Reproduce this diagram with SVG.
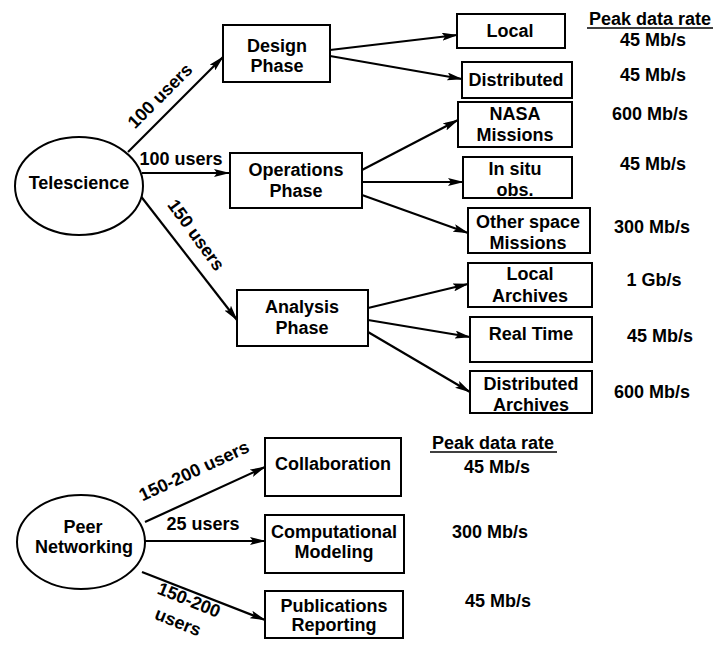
<svg xmlns="http://www.w3.org/2000/svg" width="716" height="649" viewBox="0 0 716 649">
  <defs>
    <marker id="arrow" viewBox="0 0 16 8" refX="15" refY="4" markerWidth="16" markerHeight="8" markerUnits="userSpaceOnUse" orient="auto">
      <path d="M0,0 L16,4 L0,8 L3,4 Z" fill="#000"/>
    </marker>
    <style>
      text { font-family: "Liberation Sans", Arial, Helvetica, sans-serif; font-weight: bold; font-size: 18px; fill: #000; }
      .mid { text-anchor: middle; }
      .box { fill: #fff; stroke: #000; stroke-width: 2; }
      .oval { fill: #fff; stroke: #000; stroke-width: 2; }
      .edge { fill: none; stroke: #000; stroke-width: 2.2; marker-end: url(#arrow); }
    </style>
  </defs>
  <rect width="716" height="649" fill="#fff"/>

  <!-- connectors -->
  <g id="connectors">
    <line class="edge" x1="128" y1="152" x2="223" y2="57"/>
    <line class="edge" x1="142" y1="173" x2="229" y2="173"/>
    <line class="edge" x1="136" y1="190" x2="237" y2="320"/>
    <line class="edge" x1="330" y1="50" x2="457" y2="35"/>
    <line class="edge" x1="330" y1="56" x2="462" y2="79"/>
    <line class="edge" x1="362" y1="170" x2="458" y2="120"/>
    <line class="edge" x1="362" y1="182" x2="463" y2="182"/>
    <line class="edge" x1="362" y1="195" x2="468" y2="233"/>
    <line class="edge" x1="368" y1="308" x2="468" y2="284"/>
    <line class="edge" x1="368" y1="320" x2="470" y2="337"/>
    <line class="edge" x1="368" y1="332" x2="470" y2="392"/>
    <line class="edge" x1="145" y1="522" x2="265" y2="467"/>
    <line class="edge" x1="145" y1="541" x2="265" y2="541"/>
    <line class="edge" x1="142" y1="572" x2="265" y2="620"/>
    <!-- edge labels -->
    <text class="mid" transform="translate(160,96) rotate(-45)" y="6">100 users</text>
    <text class="mid" x="181" y="165">100 users</text>
    <text class="mid" transform="translate(196,235) rotate(54)" y="6">150 users</text>
    <text class="mid" transform="translate(194,471) rotate(-25)" y="6">150-200 users</text>
    <text class="mid" x="203" y="530">25 users</text>
    <text class="mid" transform="translate(189,600) rotate(22)" y="6">150-200</text>
    <text class="mid" transform="translate(178,622) rotate(22)" y="6">users</text>
  </g>

  <!-- Telescience tree -->
  <g id="telescience">
    <ellipse class="oval" cx="79" cy="186" rx="64" ry="49"/>
    <text class="mid" x="79" y="189">Telescience</text>
  </g>
  <g id="design-phase">
    <rect class="box" x="223" y="25" width="107" height="57"/>
    <text class="mid" x="277" y="52">Design</text>
    <text class="mid" x="277" y="72">Phase</text>
  </g>
  <g id="operations-phase">
    <rect class="box" x="230" y="153" width="132" height="55"/>
    <text class="mid" x="296" y="176">Operations</text>
    <text class="mid" x="296" y="197">Phase</text>
  </g>
  <g id="analysis-phase">
    <rect class="box" x="237" y="290" width="131" height="56"/>
    <text class="mid" x="302" y="313">Analysis</text>
    <text class="mid" x="302" y="334">Phase</text>
  </g>
  <g id="local">
    <rect class="box" x="457" y="14" width="108" height="34"/>
    <text class="mid" x="510" y="37">Local</text>
  </g>
  <g id="distributed">
    <rect class="box" x="462" y="62" width="110" height="36" stroke-width="3"/>
    <text class="mid" x="516" y="86">Distributed</text>
  </g>
  <g id="nasa-missions">
    <rect class="box" x="458" y="102" width="114" height="45"/>
    <text class="mid" x="515" y="120">NASA</text>
    <text class="mid" x="515" y="141">Missions</text>
  </g>
  <g id="in-situ">
    <rect class="box" x="463" y="157" width="109" height="41"/>
    <text class="mid" x="515" y="175">In situ</text>
    <text class="mid" x="515" y="196">obs.</text>
  </g>
  <g id="other-space">
    <rect class="box" x="468" y="208" width="122" height="45"/>
    <text class="mid" x="528" y="228">Other space</text>
    <text class="mid" x="528" y="249">Missions</text>
  </g>
  <g id="local-archives">
    <rect class="box" x="468" y="263" width="124" height="44"/>
    <text class="mid" x="530" y="280">Local</text>
    <text class="mid" x="530" y="302">Archives</text>
  </g>
  <g id="real-time">
    <rect class="box" x="470" y="317" width="122" height="45"/>
    <text class="mid" x="531" y="340">Real Time</text>
  </g>
  <g id="distributed-archives">
    <rect class="box" x="470" y="371" width="122" height="42"/>
    <text class="mid" x="531" y="390">Distributed</text>
    <text class="mid" x="531" y="411">Archives</text>
  </g>

  <!-- peak data rates, upper table -->
  <g id="rates-top">
    <text class="mid" x="650" y="25">Peak data rate</text>
    <line x1="587" y1="28" x2="713" y2="28" stroke="#000" stroke-width="1.5"/>
    <text class="mid" x="653" y="46">45 Mb/s</text>
    <text class="mid" x="653" y="81">45 Mb/s</text>
    <text class="mid" x="650" y="120">600 Mb/s</text>
    <text class="mid" x="653" y="170">45 Mb/s</text>
    <text class="mid" x="652" y="233">300 Mb/s</text>
    <text class="mid" x="654" y="286">1 Gb/s</text>
    <text class="mid" x="660" y="342">45 Mb/s</text>
    <text class="mid" x="652" y="398">600 Mb/s</text>
  </g>

  <!-- Peer networking tree -->
  <g id="peer-networking">
    <ellipse class="oval" cx="81" cy="542" rx="64" ry="47"/>
    <text class="mid" x="83" y="533">Peer</text>
    <text class="mid" x="84" y="553">Networking</text>
  </g>
  <g id="collaboration">
    <rect class="box" x="265" y="438" width="136" height="58"/>
    <text class="mid" x="333" y="470">Collaboration</text>
  </g>
  <g id="computational-modeling">
    <rect class="box" x="265" y="515" width="139" height="58"/>
    <text class="mid" x="334" y="538">Computational</text>
    <text class="mid" x="334" y="558">Modeling</text>
  </g>
  <g id="publications-reporting">
    <rect class="box" x="265" y="591" width="138" height="47"/>
    <text class="mid" x="334" y="612">Publications</text>
    <text class="mid" x="334" y="631">Reporting</text>
  </g>

  <!-- peak data rates, lower table -->
  <g id="rates-bottom">
    <text class="mid" x="493" y="449">Peak data rate</text>
    <line x1="430" y1="452" x2="557" y2="452" stroke="#000" stroke-width="1.5"/>
    <text class="mid" x="497" y="473">45 Mb/s</text>
    <text class="mid" x="490" y="538">300 Mb/s</text>
    <text class="mid" x="498" y="607">45 Mb/s</text>
  </g>
</svg>
